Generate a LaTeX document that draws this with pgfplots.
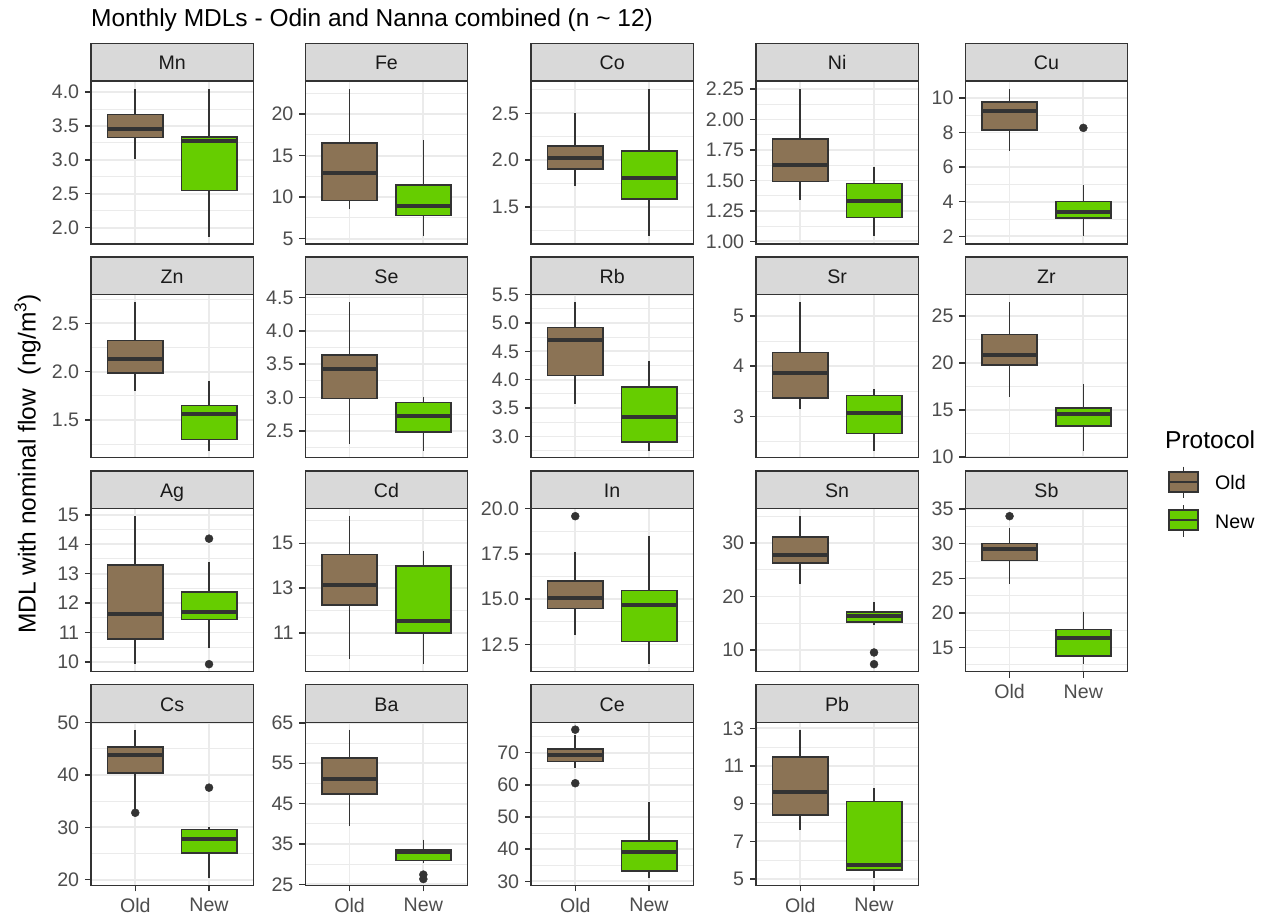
\documentclass[border=0pt]{standalone}
\usepackage{fontspec}
\setmainfont{Liberation Sans}
\usepackage{pgfplots}
\pgfplotsset{compat=1.18}
\usepgfplotslibrary{statistics}
\definecolor{gray20}{HTML}{333333}
\definecolor{gray30}{HTML}{4D4D4D}
\definecolor{gray10}{HTML}{1A1A1A}
\definecolor{gridc}{HTML}{EBEBEB}
\definecolor{stripfill}{HTML}{D9D9D9}
\definecolor{oldc}{HTML}{8B7355}
\definecolor{newc}{HTML}{66CD00}
\newcommand\basefont{\fontsize{24.5}{29}\selectfont}
\newcommand\smallfont{\fontsize{19.6}{23}\selectfont}
\pgfplotsset{
 facet/.style={
  scale only axis, width=162.3pt, height=163pt, anchor=south west,
  xmin=0.4, xmax=2.6, xtick={1,2},
  tick align=outside, tick pos=left,
  major tick length=6pt, minor tick length=0pt,
  axis line style={draw=gray20, line width=1.2pt},
  tick style={draw=gray20, line width=1.4pt},
  ymajorgrids, xmajorgrids, yminorgrids,
  major grid style={draw=gridc, line width=1.8pt},
  minor grid style={draw=gridc, line width=0.9pt},
  yticklabel style={font=\smallfont, text=gray30, inner sep=0pt, xshift=-5.7pt},
  xticklabel style={font=\smallfont, text=gray30, inner sep=0pt, yshift=-7pt},
  /pgfplots/boxplot/every box/.style={draw=gray20, line width=1.7pt},
  /pgfplots/boxplot/every whisker/.style={draw=gray20, line width=1.6pt},
  /pgfplots/boxplot/every median/.style={draw=gray20, line width=4pt},
 },
 nox/.style={xticklabels={,,}, xtick style={draw=none}},
 withx/.style={xticklabels={Old,New}},
}
\newcommand{\bx}[7]{\addplot[draw=gray20, fill=#7, line width=1.7pt,
  boxplot prepared={draw direction=y, draw position=#1, box extend=0.75, whisker extend=0,
   lower whisker=#2, lower quartile=#3, median=#4, upper quartile=#5, upper whisker=#6}] coordinates {};}
\newcommand{\outl}[1]{\addplot[only marks, mark=*, mark size=4pt, color=gray20] coordinates {#1};}
\newcommand{\strip}[3]{%
 \draw[fill=stripfill, draw=gray20, line width=1.2pt] (#1pt,-#2pt) rectangle (#1pt+162.3pt,-#2pt-37.5pt);
 \node[anchor=base, font=\smallfont, text=gray10, inner sep=0pt] at (#1pt+81.15pt,-#2pt-26.5pt) {#3};}
\begin{document}
\begin{tikzpicture}
% ---------- Row 1 ----------
\begin{axis}[facet, nox, at={(91pt,-244pt)}, ymin=1.76, ymax=4.162, ytick={2,2.5,3,3.5,4}, yticklabels={2.0,2.5,3.0,3.5,4.0}, minor ytick={2.25,2.75,3.25,3.75}]
\bx{1}{3.01}{3.33}{3.46}{3.67}{4.04}{oldc}
\bx{2}{1.87}{2.55}{3.28}{3.34}{4.04}{newc}
\end{axis}
\strip{91}{43.5}{Mn}
\begin{axis}[facet, nox, at={(305.3pt,-244pt)}, ymin=4.36, ymax=24.0, ytick={5,10,15,20}, yticklabels={5,10,15,20}, minor ytick={7.5,12.5,17.5,22.5}]
\bx{1}{8.52}{9.6}{12.96}{16.52}{23.0}{oldc}
\bx{2}{5.32}{7.8}{8.92}{11.48}{16.84}{newc}
\end{axis}
\strip{305.3}{43.5}{Fe}
\begin{axis}[facet, nox, at={(531pt,-244pt)}, ymin=1.106, ymax=2.844, ytick={1.5,2,2.5}, yticklabels={1.5,2.0,2.5}, minor ytick={1.25,1.75,2.25,2.75}]
\bx{1}{1.72}{1.908}{2.028}{2.152}{2.5}{oldc}
\bx{2}{1.188}{1.585}{1.805}{2.096}{2.755}{newc}
\end{axis}
\strip{531}{43.5}{Co}
\begin{axis}[facet, nox, at={(756pt,-244pt)}, ymin=0.978, ymax=2.316, ytick={1,1.25,1.5,1.75,2,2.25}, yticklabels={1.00,1.25,1.50,1.75,2.00,2.25}, minor ytick={1.125,1.375,1.625,1.875,2.125}]
\bx{1}{1.342}{1.492}{1.627}{1.842}{2.247}{oldc}
\bx{2}{1.041}{1.195}{1.332}{1.475}{1.614}{newc}
\end{axis}
\strip{756}{43.5}{Ni}
\begin{axis}[facet, nox, at={(965.3pt,-244pt)}, ymin=1.558, ymax=10.98, ytick={2,4,6,8,10}, yticklabels={2,4,6,8,10}, minor ytick={3,5,7,9}]
\bx{1}{6.96}{8.15}{9.25}{9.77}{10.5}{oldc}
\bx{2}{2.0}{3.06}{3.42}{4.02}{4.98}{newc}
\outl{(2,8.27)}
\end{axis}
\strip{965.3}{43.5}{Cu}
% ---------- Row 2 ----------
\begin{axis}[facet, nox, at={(91pt,-457.5pt)}, ymin=1.114, ymax=2.797, ytick={1.5,2,2.5}, yticklabels={1.5,2.0,2.5}, minor ytick={1.25,1.75,2.25,2.75}]
\bx{1}{1.803}{1.986}{2.128}{2.321}{2.717}{oldc}
\bx{2}{1.183}{1.3}{1.562}{1.652}{1.907}{newc}
\end{axis}
\strip{91}{257}{Zn}
\begin{axis}[facet, nox, at={(305.3pt,-457.5pt)}, ymin=2.1, ymax=4.545, ytick={2.5,3,3.5,4,4.5}, yticklabels={2.5,3.0,3.5,4.0,4.5}, minor ytick={2.25,2.75,3.25,3.75,4.25}]
\bx{1}{2.3}{2.985}{3.425}{3.635}{4.43}{oldc}
\bx{2}{2.2}{2.48}{2.73}{2.925}{3.015}{newc}
\end{axis}
\strip{305.3}{257}{Se}
\begin{axis}[facet, nox, at={(531pt,-457.5pt)}, ymin=2.63, ymax=5.502, ytick={3,3.5,4,4.5,5,5.5}, yticklabels={3.0,3.5,4.0,4.5,5.0,5.5}, minor ytick={2.75,3.25,3.75,4.25,4.75,5.25}]
\bx{1}{3.571}{4.076}{4.706}{4.918}{5.365}{oldc}
\bx{2}{2.747}{2.9}{3.335}{3.876}{4.335}{newc}
\end{axis}
\strip{531}{257}{Rb}
\begin{axis}[facet, nox, at={(756pt,-457.5pt)}, ymin=2.183, ymax=5.425, ytick={3,4,5}, yticklabels={3,4,5}, minor ytick={2.5,3.5,4.5}]
\bx{1}{3.14}{3.362}{3.854}{4.272}{5.272}{oldc}
\bx{2}{2.316}{2.661}{3.073}{3.419}{3.538}{newc}
\end{axis}
\strip{756}{257}{Sr}
\begin{axis}[facet, nox, at={(965.3pt,-457.5pt)}, ymin=9.93, ymax=27.27, ytick={10,15,20,25}, yticklabels={10,15,20,25}, minor ytick={12.5,17.5,22.5}]
\bx{1}{16.37}{19.79}{20.82}{23.02}{26.46}{oldc}
\bx{2}{10.64}{13.26}{14.61}{15.18}{17.70}{newc}
\end{axis}
\strip{965.3}{257}{Zr}
% ---------- Row 3 ----------
\begin{axis}[facet, nox, at={(91pt,-671.5pt)}, ymin=9.67, ymax=15.216, ytick={10,11,12,13,14,15}, yticklabels={10,11,12,13,14,15}, minor ytick={10.5,11.5,12.5,13.5,14.5}]
\bx{1}{9.93}{10.773}{11.636}{13.295}{14.955}{oldc}
\bx{2}{10.477}{11.443}{11.705}{12.386}{13.41}{newc}
\outl{(2,14.19) (2,9.92)}
\end{axis}
\strip{91}{471}{Ag}
\begin{axis}[facet, nox, at={(305.3pt,-671.5pt)}, ymin=9.29, ymax=16.546, ytick={11,13,15}, yticklabels={11,13,15}, minor ytick={10,12,14,16}]
\bx{1}{9.84}{12.257}{13.119}{14.494}{16.204}{oldc}
\bx{2}{9.617}{11.0}{11.55}{14.0}{14.673}{newc}
\end{axis}
\strip{305.3}{471}{Cd}
\begin{axis}[facet, nox, at={(531pt,-671.5pt)}, ymin=11.006, ymax=20.0, ytick={12.5,15,17.5,20}, yticklabels={12.5,15.0,17.5,20.0}, minor ytick={11.25,13.75,16.25,18.75}]
\bx{1}{12.998}{14.483}{15.055}{16.015}{17.574}{oldc}
\bx{2}{11.411}{12.666}{14.668}{15.48}{18.496}{newc}
\outl{(1,19.576)}
\end{axis}
\strip{531}{471}{In}
\begin{axis}[facet, nox, at={(756pt,-671.5pt)}, ymin=6.01, ymax=36.42, ytick={10,20,30}, yticklabels={10,20,30}, minor ytick={15,25,35}]
\bx{1}{22.3}{26.2}{27.69}{31.06}{34.98}{oldc}
\bx{2}{14.7}{15.2}{16.4}{17.13}{18.94}{newc}
\outl{(2,9.56) (2,7.38)}
\end{axis}
\strip{756}{471}{Sn}
\begin{axis}[facet, withx, at={(965.3pt,-671.5pt)}, ymin=11.52, ymax=35.1, ytick={15,20,25,30,35}, yticklabels={15,20,25,30,35}, minor ytick={12.5,17.5,22.5,27.5,32.5}]
\bx{1}{24.18}{27.58}{29.18}{30.05}{32.29}{oldc}
\bx{2}{12.58}{13.79}{16.43}{17.58}{20.19}{newc}
\outl{(1,33.99)}
\end{axis}
\strip{965.3}{471}{Sb}
% ---------- Row 4 ----------
\begin{axis}[facet, withx, at={(91pt,-885.3pt)}, ymin=18.91, ymax=50.06, ytick={20,30,40,50}, yticklabels={20,30,40,50}, minor ytick={25,35,45}]
\bx{1}{33.4}{40.32}{43.84}{45.39}{48.66}{oldc}
\bx{2}{20.26}{25.07}{27.76}{29.55}{30.13}{newc}
\outl{(1,32.77) (2,37.57)}
\end{axis}
\strip{91}{684.8}{Cs}
\begin{axis}[facet, withx, at={(305.3pt,-885.3pt)}, ymin=24.75, ymax=65.17, ytick={25,35,45,55,65}, yticklabels={25,35,45,55,65}, minor ytick={30,40,50,60}]
\bx{1}{39.44}{47.32}{51.1}{56.33}{63.34}{oldc}
\bx{2}{30.4}{30.93}{32.9}{33.42}{36.08}{newc}
\outl{(2,27.4) (2,26.3)}
\end{axis}
\strip{305.3}{684.8}{Ba}
\begin{axis}[facet, withx, at={(531pt,-885.3pt)}, ymin=28.75, ymax=79.48, ytick={30,40,50,60,70}, yticklabels={30,40,50,60,70}, minor ytick={35,45,55,65,75}]
\bx{1}{65.2}{67.29}{69.27}{71.15}{75.6}{oldc}
\bx{2}{31.15}{33.23}{39.06}{42.5}{54.69}{newc}
\outl{(1,77.19) (1,60.52)}
\end{axis}
\strip{531}{684.8}{Ce}
\begin{axis}[facet, withx, at={(756pt,-885.3pt)}, ymin=4.66, ymax=13.32, ytick={5,7,9,11,13}, yticklabels={5,7,9,11,13}, minor ytick={6,8,10,12}]
\bx{1}{7.6}{8.4}{9.64}{11.48}{12.93}{oldc}
\bx{2}{5.05}{5.46}{5.73}{9.12}{9.82}{newc}
\end{axis}
\strip{756}{684.8}{Pb}
% ---------- Titles ----------
\node[anchor=base west, font=\basefont, inner sep=0pt] at (91pt,-27pt) {Monthly MDLs - Odin and Nanna combined (n \textasciitilde{} 12)};
\node[rotate=90, anchor=base, font=\basefont, inner sep=0pt] at (35.5pt,-464pt) {MDL with nominal flow\ \ (ng/m\textsuperscript{3})};
% ---------- Legend ----------
\node[anchor=base west, font=\basefont, inner sep=0pt] at (1165pt,-448.3pt) {Protocol};
\draw[gray20, line width=1.6pt] (1183.5pt,-466.7pt) -- (1183.5pt,-498pt);
\draw[fill=oldc, draw=gray20, line width=1.6pt] (1169pt,-471.7pt) rectangle (1198pt,-491.7pt);
\draw[gray20, line width=1.6pt] (1169pt,-481.7pt) -- (1198pt,-481.7pt);
\draw[gray20, line width=1.6pt] (1183.5pt,-505pt) -- (1183.5pt,-536.7pt);
\draw[fill=newc, draw=gray20, line width=1.6pt] (1169pt,-510pt) rectangle (1198pt,-530pt);
\draw[gray20, line width=1.6pt] (1169pt,-520pt) -- (1198pt,-520pt);
\node[anchor=base west, font=\smallfont, inner sep=0pt] at (1215pt,-489.5pt) {Old};
\node[anchor=base west, font=\smallfont, inner sep=0pt] at (1215pt,-528.3pt) {New};
\pgfresetboundingbox
\useasboundingbox (0pt,0pt) rectangle (1270pt,-920pt);
\end{tikzpicture}
\end{document}
